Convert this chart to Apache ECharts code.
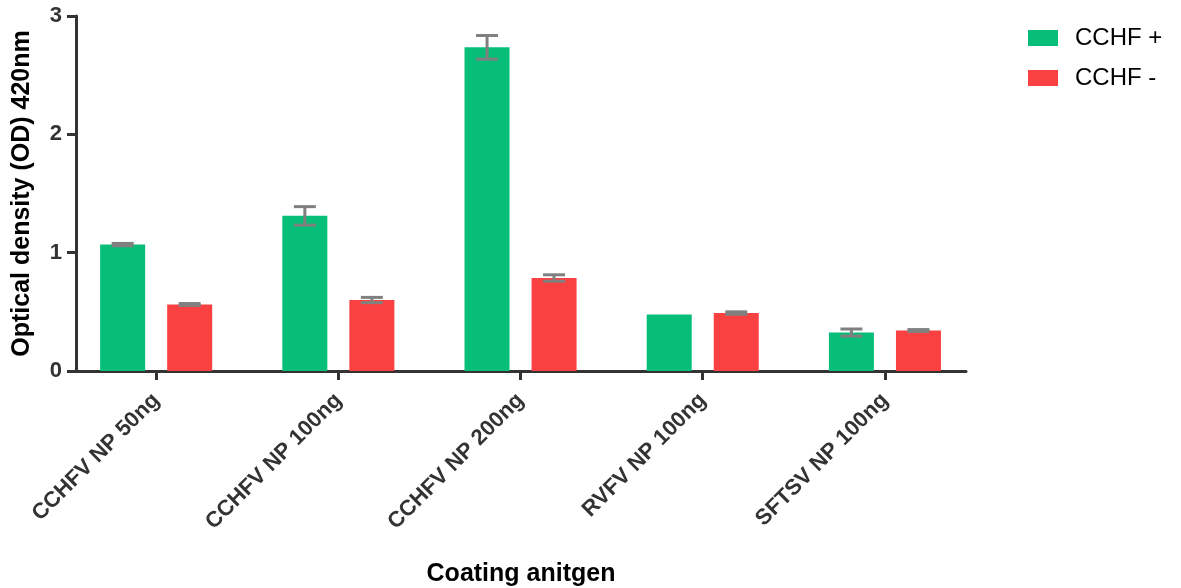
<!DOCTYPE html>
<html>
<head>
<meta charset="utf-8">
<script src="https://cdn.jsdelivr.net/npm/echarts@6/dist/echarts.min.js"></script>
<style>html,body{margin:0;padding:0;background:#fff}#c{width:1181px;height:588px}</style>
</head>
<body>
<div id="c"></div>
<script>
const categories = ['CCHFV NP 50ng', 'CCHFV NP 100ng', 'CCHFV NP 200ng', 'RVFV NP 100ng', 'SFTSV NP 100ng'];
const posMeans = [1.068, 1.311, 2.735, 0.477, 0.325];
const posSD    = [0.010, 0.078, 0.100, 0.000, 0.030];
const negMeans = [0.562, 0.600, 0.786, 0.490, 0.342];
const negSD    = [0.008, 0.022, 0.027, 0.010, 0.008];
const seriesNames = ['CCHF +', 'CCHF -'];
const yTicks = [0, 1, 2, 3];

const FONT = 'Liberation Sans, Arial, sans-serif';
const GREEN = '#06BE78';
const RED = '#F94141';
const BAR_W = 45;
const OFF = 33.5;

function barData(vals){ return vals.map((v,i)=>[i, v]); }
function errData(vals, sd){ return vals.map((v,i)=>[i, v - sd[i], v + sd[i]]); }

function errRender(offset){
  return function(params, api){
    const x = api.value(0);
    const lo = api.coord([x, api.value(1)]);
    const hi = api.coord([x, api.value(2)]);
    if (Math.abs(lo[1]-hi[1]) < 0.5) return null;
    const cx = lo[0] + offset;
    const hw = 11;
    const st = {stroke:'#808080', lineWidth:3};
    return {type:'group', children:[
      {type:'line', shape:{x1:cx, y1:lo[1], x2:cx, y2:hi[1]}, style:st},
      {type:'line', shape:{x1:cx-hw, y1:hi[1], x2:cx+hw, y2:hi[1]}, style:st},
      {type:'line', shape:{x1:cx-hw, y1:lo[1], x2:cx+hw, y2:lo[1]}, style:st}
    ]};
  };
}

const chart = echarts.init(document.getElementById('c'), null, {renderer:'canvas'});
chart.setOption({
  animation:false,
  backgroundColor:'#fff',
  textStyle:{fontFamily:FONT},
  grid:{left:76, right:215, top:16, bottom:217, containLabel:false, outerBoundsMode:'none'},
  legend:{
    left:1028, top:26, padding:0, orient:'vertical', itemWidth:30, itemHeight:16, itemGap:16,
    icon:'rect',
    textStyle:{fontFamily:FONT, fontSize:24, color:'#000', padding:[0,0,0,12]},
    data:seriesNames
  },
  xAxis:{
    type:'value', min:-0.44, max:4.445,
    name:'Coating anitgen', nameLocation:'middle', nameGap:191,
    nameTextStyle:{fontFamily:FONT, fontSize:25, fontWeight:'bold', color:'#000'},
    axisLine:{show:true, onZero:false, lineStyle:{color:'#333', width:3}},
    axisTick:{show:true, customValues:[0,1,2,3,4], length:9, lineStyle:{color:'#333', width:3}},
    axisLabel:{customValues:[0,1,2,3,4], rotate:45, margin:26,
      formatter:(v)=>categories[Math.round(v)],
      fontFamily:FONT, fontSize:22, fontWeight:'bold', color:'#333'},
    splitLine:{show:false}
  },
  yAxis:{
    type:'value', min:0, max:3, interval:1,
    name:'Optical density (OD) 420nm', nameLocation:'middle', nameGap:41,
    nameTextStyle:{fontFamily:FONT, fontSize:25, fontWeight:'bold', color:'#000'},
    axisLine:{show:true, onZero:false, lineStyle:{color:'#333', width:3}},
    axisTick:{show:true, length:9, lineStyle:{color:'#333', width:3}},
    axisLabel:{fontFamily:FONT, fontSize:22, fontWeight:'bold', color:'#333', margin:14,
      formatter:(v)=> yTicks.includes(v) ? String(v) : ''},
    splitLine:{show:false}
  },
  series:[
    {name:seriesNames[0], type:'bar', data:barData(posMeans), barWidth:BAR_W, barGap:'49%',
     itemStyle:{color:GREEN}},
    {name:seriesNames[1], type:'bar', data:barData(negMeans), barWidth:BAR_W, barGap:'49%',
     itemStyle:{color:RED}},
    {type:'custom', data:errData(posMeans, posSD), renderItem:errRender(-OFF), z:5,
     encode:{x:0, y:[1,2]}},
    {type:'custom', data:errData(negMeans, negSD), renderItem:errRender(OFF), z:5,
     encode:{x:0, y:[1,2]}}
  ]
});
</script>
</body>
</html>
